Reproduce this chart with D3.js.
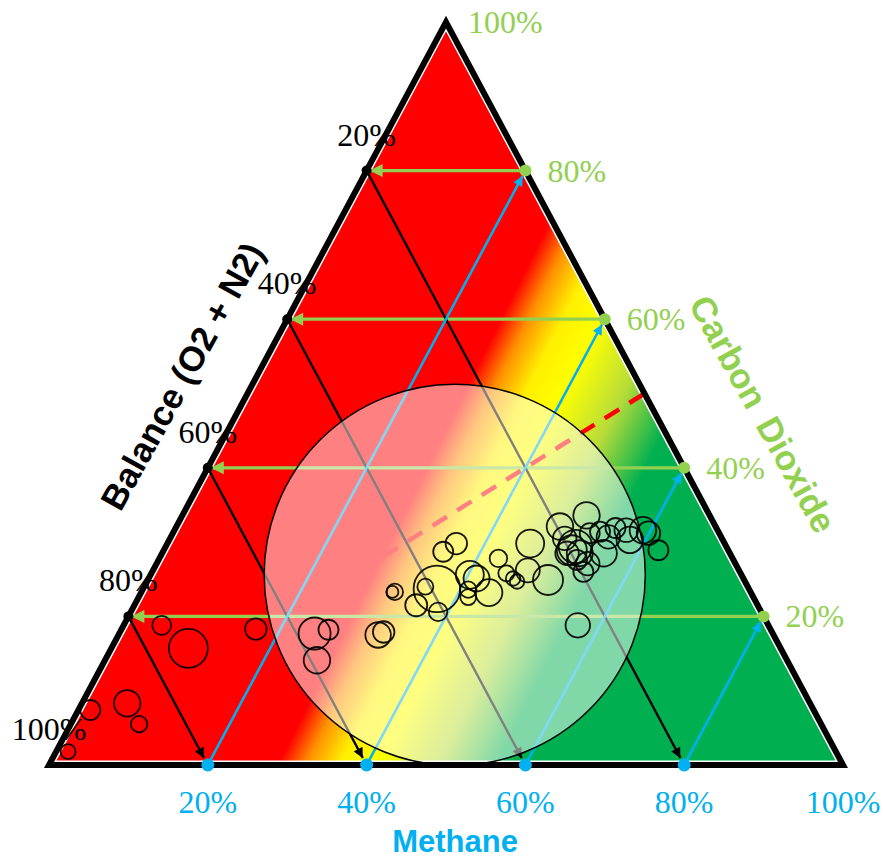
<!DOCTYPE html>
<html>
<head>
<meta charset="utf-8">
<script src="https://cdn.jsdelivr.net/npm/d3@7"></script>
<style>
  body { margin: 0; background: #fff; }
  svg { display: block; }
</style>
</head>
<body>
<svg id="chart" width="884" height="858"></svg>
<script>
// ---- Axis ticks (percent) ----
const gridTicks = [20, 40, 60, 80];
const methaneTickLabels = ["20%", "40%", "60%", "80%", "100%"];
const co2TickLabels = ["20%", "40%", "60%", "80%", "100%"];
const balanceTickLabels = ["20%", "40%", "60%", "80%", "100%"];
const tickValues = [20, 40, 60, 80, 100];

// ---- Gas samples: methane %, carbon dioxide %, relative bubble size ----
const sampleMethane = [4.8, 9.7, 16.9, 5.7, 8.6, 1.5, 1.5,
  24.6, 26.1, 26.7, 32.7, 33.2, 31.9, 31.6, 37.0, 35.3, 36.4, 35.4, 35.5, 38.7,
  40.2, 41.3, 41.0, 41.5, 43.8, 42.7, 44.7, 45.9, 46.6, 45.7, 47.2, 50.4,
  48.3, 49.7, 51.6, 51.4, 52.6, 51.0, 54.3, 52.7, 54.3, 50.9, 52.5, 53.7,
  55.6, 55.1, 55.4, 56.9, 58.0, 59.0, 59.9, 62.3, 57.2];
const sampleCO2 = [18.8, 15.7, 18.3, 8.3, 5.5, 7.4, 1.8,
  17.7, 18.2, 14.1, 17.5, 17.9, 23.3, 23.3, 23.7, 28.7, 29.8, 24.0, 21.5, 20.6,
  25.6, 25.1, 23.6, 22.6, 23.2, 27.8, 25.8, 25.1, 24.7, 29.8, 26.2, 24.9,
  32.1, 30.5, 29.4, 28.9, 28.5, 28.5, 27.1, 27.6, 26.0, 33.6, 31.2, 31.4,
  28.5, 30.7, 31.9, 31.6, 30.3, 31.6, 31.2, 28.9, 18.8];
const sampleSize = [38, 78, 43, 53, 33, 40, 30,
  64, 40, 53, 51, 43, 33, 24, 93, 40, 43, 32, 44, 37,
  56, 52, 33, 32, 54, 35, 32, 29, 29, 56, 48, 60,
  53, 47, 67, 60, 52, 47, 47, 40, 40, 53, 40, 40,
  53, 47, 40, 47, 53, 53, 47, 40, 49];

// ---- Highlighted operating zone (centre in methane %, CO2 %; radius in % of methane axis) ----
const zoneMethane = [38.3];
const zoneCO2 = [25.6];
const zoneRadius = [24];

// ---- Equal methane / CO2 reference line (range of CH4 = CO2 %) ----
const equalRatioRange = [26, 50];

// ---- Layout ----
const svg = d3.select("#chart");
const left = 49, right = 843, base = 765, apex = 22;

// methane runs along the base, CO2 runs upwards
const xScale = d3.scaleLinear().domain([0, 100]).range([left, right]);
const yScale = d3.scaleLinear().domain([0, 100]).range([base, apex]);
// ternary (methane, co2) -> screen
const px = (m, c) => xScale(m + c / 2);
const py = (m, c) => yScale(c);
const P = (m, c) => [px(m, c), py(m, c)];

const RED = "#FF0000", GREEN = "#92D050", BLUE = "#00B0F0", DARK_GREEN = "#00B050";

// ---- Background gradient ----
const defs = svg.append("defs");
const grad = defs.append("linearGradient")
  .attr("id", "bgGrad")
  .attr("gradientUnits", "userSpaceOnUse")
  .attr("x1", 400).attr("y1", 400)
  .attr("x2", 680).attr("y2", 540);
[
  [0, RED], [0.172, RED], [0.252, "#FF9000"], [0.35, "#FFF000"],
  [0.457, "#FFFF00"], [0.629, "#B8DC38"], [0.8, DARK_GREEN], [1, DARK_GREEN]
].forEach(([o, c]) => grad.append("stop").attr("offset", o).attr("stop-color", c));

// arrow markers
function marker(id, color, w, h) {
  defs.append("marker")
    .attr("id", id)
    .attr("viewBox", "0 0 10 10")
    .attr("refX", 10).attr("refY", 5)
    .attr("markerWidth", w).attr("markerHeight", h)
    .attr("markerUnits", "userSpaceOnUse")
    .attr("orient", "auto")
    .append("path").attr("d", "M0,0 L10,5 L0,10 Z").attr("fill", color);
}
marker("arGreen", GREEN, 17, 13);
marker("arBlue", BLUE, 13, 10);
marker("arBlack", "#000", 13, 10);

const triangle = [P(0, 0), P(100, 0), P(0, 100)];
const triPath = "M" + triangle.map(p => p.join(",")).join("L") + "Z";

// filled triangle with white inner rim
svg.append("path").attr("d", triPath).attr("fill", "url(#bgGrad)");
svg.append("path").attr("d", triPath).attr("fill", "none")
  .attr("stroke", "#fff").attr("stroke-width", 9).attr("stroke-linejoin", "miter");

// shorten segment end so the arrow tip stops before the tick dot
function shortened(a, b, gap) {
  const dx = b[0] - a[0], dy = b[1] - a[1];
  const L = Math.hypot(dx, dy);
  return [a, [b[0] - dx / L * gap, b[1] - dy / L * gap]];
}

const gridG = svg.append("g");
// constant CO2 (green, pointing to the balance axis)
gridTicks.forEach(k => {
  const [a, b] = shortened(P(100 - k, k), P(0, k), 3);
  gridG.append("line")
    .attr("x1", a[0]).attr("y1", a[1]).attr("x2", b[0]).attr("y2", b[1])
    .attr("stroke", GREEN).attr("stroke-width", 3.2)
    .attr("marker-end", "url(#arGreen)");
});
// constant balance (black, pointing to the methane axis)
gridTicks.forEach(k => {
  const [a, b] = shortened(P(0, 100 - k), P(100 - k, 0), 8);
  gridG.append("line")
    .attr("x1", a[0]).attr("y1", a[1]).attr("x2", b[0]).attr("y2", b[1])
    .attr("stroke", "#000").attr("stroke-width", 2.4)
    .attr("marker-end", "url(#arBlack)");
});
// constant methane (blue, pointing to the CO2 axis)
gridTicks.forEach(k => {
  const [a, b] = shortened(P(k, 0), P(k, 100 - k), 6);
  gridG.append("line")
    .attr("x1", a[0]).attr("y1", a[1]).attr("x2", b[0]).attr("y2", b[1])
    .attr("stroke", BLUE).attr("stroke-width", 2.6)
    .attr("marker-end", "url(#arBlue)");
});

// CH4 = CO2 reference line
const ratioLine = d3.line().x(d => px(d, d)).y(d => py(d, d));
svg.append("path")
  .attr("d", ratioLine(equalRatioRange))
  .attr("fill", "none").attr("stroke", RED)
  .attr("stroke-width", 4.5).attr("stroke-dasharray", "17 12");

// highlighted zone
const rScaleZone = d => xScale(d) - xScale(0);
svg.selectAll("circle.zone")
  .data(zoneMethane.map((m, i) => ({ m, c: zoneCO2[i], r: zoneRadius[i] })))
  .join("circle").attr("class", "zone")
  .attr("cx", d => px(d.m, d.c)).attr("cy", d => py(d.m, d.c))
  .attr("r", d => rScaleZone(d.r))
  .attr("fill", "#fff").attr("fill-opacity", 0.5)
  .attr("stroke", "#000").attr("stroke-width", 1.5);

// tick dots
const dotG = svg.append("g");
gridTicks.forEach(k => {
  dotG.append("circle").attr("cx", px(k, 0)).attr("cy", py(k, 0)).attr("r", 6.5).attr("fill", BLUE);
  dotG.append("circle").attr("cx", px(100 - k, k)).attr("cy", py(100 - k, k)).attr("r", 6).attr("fill", GREEN);
});

// samples
const sizeScale = d3.scaleLinear().domain([0, 100]).range([0, 25]);
const samples = sampleMethane.map((m, i) => ({ m, c: sampleCO2[i], s: sampleSize[i] }));
svg.append("g").selectAll("circle")
  .data(samples).join("circle")
  .attr("cx", d => px(d.m, d.c)).attr("cy", d => py(d.m, d.c))
  .attr("r", d => sizeScale(d.s))
  .attr("fill", "none").attr("stroke", "#000").attr("stroke-width", 1.8)
  .attr("stroke-opacity", 0.9);

// triangle outline
svg.append("path").attr("d", triPath).attr("fill", "none")
  .attr("stroke", "#000").attr("stroke-width", 6).attr("stroke-linejoin", "miter");
dotG.raise();
gridTicks.forEach(k => {
  svg.append("circle").attr("cx", px(0, 100 - k)).attr("cy", py(0, 100 - k)).attr("r", 5).attr("fill", "#000");
});

// ---- Tick labels ----
const tickFont = "'Liberation Serif', 'Times New Roman', serif";
// balance (left side): 20% at top ... 100% at bottom-left corner
svg.append("g").selectAll("text")
  .data(tickValues).join("text")
  .attr("x", (d) => px(0, 100 - d))
  .attr("y", (d) => py(0, 100 - d) - 25)
  .attr("text-anchor", "middle")
  .attr("font-family", tickFont).attr("font-size", 32)
  .attr("fill", "#000")
  .text((d, i) => balanceTickLabels[i]);
// carbon dioxide (right side)
svg.append("g").selectAll("text")
  .data(tickValues).join("text")
  .attr("x", d => px(100 - d, d) + 22)
  .attr("y", d => py(100 - d, d) + 11)
  .attr("text-anchor", "start")
  .attr("font-family", tickFont).attr("font-size", 32)
  .attr("fill", GREEN)
  .text((d, i) => co2TickLabels[i]);
// methane (base)
svg.append("g").selectAll("text")
  .data(tickValues).join("text")
  .attr("x", d => px(d, 0))
  .attr("y", 813)
  .attr("text-anchor", "middle")
  .attr("font-family", tickFont).attr("font-size", 32)
  .attr("fill", BLUE)
  .text((d, i) => methaneTickLabels[i]);

// ---- Axis titles ----
const titleFont = "'Liberation Sans', Arial, sans-serif";
svg.append("text")
  .attr("transform", "translate(455,852)")
  .attr("text-anchor", "middle")
  .attr("font-family", titleFont).attr("font-weight", "bold").attr("font-size", 31)
  .attr("fill", BLUE).text("Methane");
svg.append("text")
  .attr("transform", "translate(182,376) rotate(-61)")
  .attr("text-anchor", "middle").attr("dominant-baseline", "central")
  .attr("font-family", titleFont).attr("font-weight", "bold").attr("font-size", 35)
  .attr("fill", "#000").text("Balance (O2 + N2)");
svg.append("text")
  .attr("transform", "translate(763,414) rotate(61)")
  .attr("text-anchor", "middle").attr("dominant-baseline", "central")
  .attr("font-family", titleFont).attr("font-weight", "bold").attr("font-size", 35)
  .attr("word-spacing", 6)
  .attr("fill", GREEN).text("Carbon Dioxide");
</script>
</body>
</html>
